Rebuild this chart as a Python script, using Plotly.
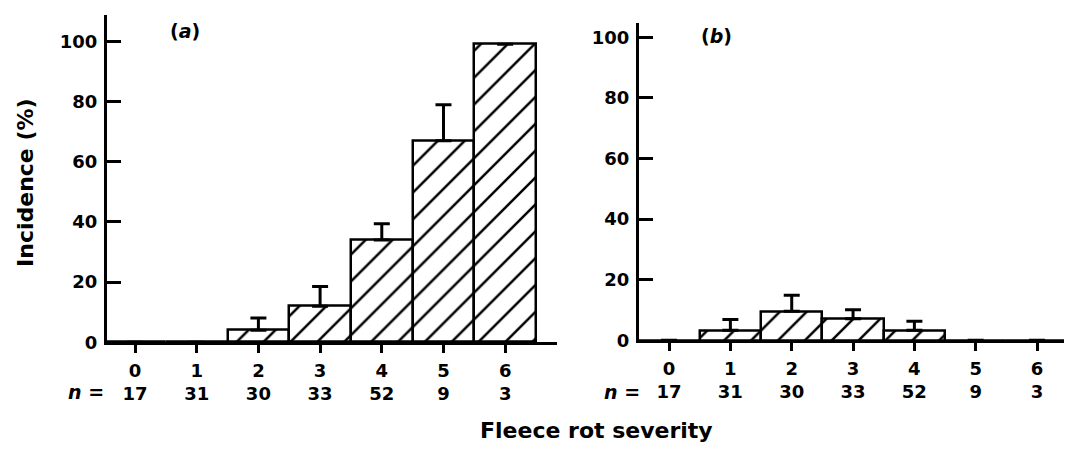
import plotly.graph_objects as go

# ---- data ----
severity = [0, 1, 2, 3, 4, 5, 6]
n_sheep = [17, 31, 30, 33, 52, 9, 3]
incidence_a = [0, 0, 4, 12, 34, 67, 99]
err_a = [0, 0, 4.1, 6.5, 5.4, 11.9, 0]
incidence_b = [0, 3.3, 9.6, 7.1, 3.3, 0, 0]
err_b = [0, 3.6, 5.3, 3.0, 3.0, 0, 0]
y_ticks = [0, 20, 40, 60, 80, 100]
tick_text = [f"{s}<br>{n}" for s, n in zip(severity, n_sheep)]

# page body has an 8 px margin; figure sized to fit the visible window
OFF = 8
W, H = 1072 - OFF, 450 - OFF
FONT = "DejaVu Sans, Verdana, sans-serif"

def px_x(p):
    return (p - OFF) / W

def px_y(p):
    return 1 - (p - OFF) / H

bar_marker = dict(
    color="white",
    line=dict(color="black", width=2.5),
    pattern=dict(shape="/", size=19, solidity=0.13, fgcolor="black",
                 bgcolor="white", fillmode="replace"),
)
err_style = dict(type="data", symmetric=False, color="black", thickness=3, width=8)

fig = go.Figure()
fig.add_trace(go.Bar(x=severity, y=incidence_a, marker=bar_marker,
                     error_y=dict(array=err_a, arrayminus=[0] * 7, **err_style),
                     xaxis="x", yaxis="y", showlegend=False))
fig.add_trace(go.Bar(x=severity, y=incidence_b, marker=bar_marker,
                     error_y=dict(array=err_b, arrayminus=[0] * 7, **err_style),
                     xaxis="x2", yaxis="y2", showlegend=False))

tickfont = dict(family=FONT, size=18, color="black", weight="bold")
common_x = dict(showline=True, linewidth=3, linecolor="black", ticks="outside",
                ticklen=8, tickwidth=3, tickcolor="black", tickvals=severity,
                ticktext=tick_text, showgrid=False, zeroline=False,
                tickfont=tickfont, ticklabelstandoff=2, fixedrange=True)
common_y = dict(showline=True, linewidth=3, linecolor="black", ticks="inside",
                ticklen=14, tickwidth=3, tickcolor="black", tickvals=y_ticks,
                showgrid=False, zeroline=False, tickfont=tickfont,
                ticklabelstandoff=3, fixedrange=True)

fig.update_layout(
    width=W, height=H,
    margin=dict(l=0, r=0, t=0, b=0),
    paper_bgcolor="white", plot_bgcolor="white",
    bargap=0,
    xaxis=dict(domain=[px_x(107), px_x(557)], range=[-0.454, 6.84], anchor="y", **common_x),
    yaxis=dict(domain=[px_y(350), px_y(15)], range=[0, 108.8], anchor="x", **common_y),
    xaxis2=dict(domain=[px_x(639), 1.0], range=[-0.49, 6.57], anchor="y2", **common_x),
    yaxis2=dict(domain=[px_y(348), px_y(23)], range=[0, 104.8], anchor="x2", **common_y),
    font=dict(family=FONT, color="black"),
)

title_font = dict(family=FONT, size=22, color="black", weight="bold")
ann_font = dict(family=FONT, size=19, color="black", weight="bold")
annotations = [
    dict(text="Incidence (%)", x=px_x(26), y=px_y(187), textangle=-90, font=title_font),
    dict(text="Fleece rot severity", x=px_x(596), y=px_y(440), font=title_font),
    dict(text="(<i>a</i>)", x=px_x(185), y=px_y(32), font=ann_font),
    dict(text="(<i>b</i>)", x=px_x(716), y=px_y(37), font=ann_font),
    dict(text="<i>n</i> =", x=px_x(106), y=px_y(401), xanchor="right", font=ann_font),
    dict(text="<i>n</i> =", x=px_x(642), y=px_y(401), xanchor="right", font=ann_font),
]
for a in annotations:
    a.setdefault("xanchor", "center")
    a.update(xref="paper", yref="paper", yanchor="middle", showarrow=False)
fig.update_layout(annotations=annotations)

fig.write_html("out.html")
